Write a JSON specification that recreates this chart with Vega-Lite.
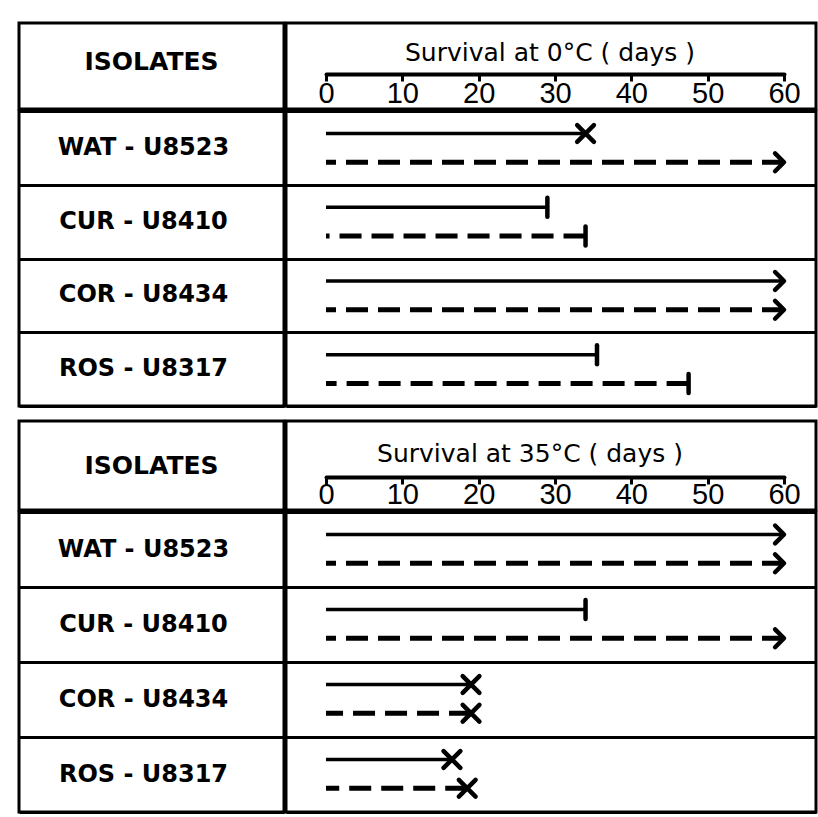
{
  "$schema": "https://vega.github.io/schema/vega-lite/v6.json",
  "background": "white",
  "padding": {"left": 17, "top": 21, "right": 0, "bottom": 0},
  "spacing": 11,
  "config": {
    "view": {"stroke": "#000", "strokeWidth": 3},
    "concat": {"spacing": 0},
    "text": {"color": "#000"},
    "axis": {"gridColor": "#000", "gridOpacity": 1, "gridWidth": 3, "domainColor": "#000", "tickColor": "#000", "labelColor": "#000", "titleColor": "#000"}
  },
  "datasets": {
    "survival": [
      {"temp": "0°C", "isolate": "WAT - U8523", "series": "A", "days": 34, "end": "x"},
      {"temp": "0°C", "isolate": "WAT - U8523", "series": "B", "days": 60, "end": "arrow"},
      {"temp": "0°C", "isolate": "CUR - U8410", "series": "A", "days": 29, "end": "bar"},
      {"temp": "0°C", "isolate": "CUR - U8410", "series": "B", "days": 34, "end": "bar"},
      {"temp": "0°C", "isolate": "COR - U8434", "series": "A", "days": 60, "end": "arrow"},
      {"temp": "0°C", "isolate": "COR - U8434", "series": "B", "days": 60, "end": "arrow"},
      {"temp": "0°C", "isolate": "ROS - U8317", "series": "A", "days": 35.5, "end": "bar"},
      {"temp": "0°C", "isolate": "ROS - U8317", "series": "B", "days": 47.5, "end": "bar"},
      {"temp": "35°C", "isolate": "WAT - U8523", "series": "A", "days": 60, "end": "arrow"},
      {"temp": "35°C", "isolate": "WAT - U8523", "series": "B", "days": 60, "end": "arrow"},
      {"temp": "35°C", "isolate": "CUR - U8410", "series": "A", "days": 34, "end": "bar"},
      {"temp": "35°C", "isolate": "CUR - U8410", "series": "B", "days": 60, "end": "arrow"},
      {"temp": "35°C", "isolate": "COR - U8434", "series": "A", "days": 19, "end": "x"},
      {"temp": "35°C", "isolate": "COR - U8434", "series": "B", "days": 19, "end": "x"},
      {"temp": "35°C", "isolate": "ROS - U8317", "series": "A", "days": 16.5, "end": "x"},
      {"temp": "35°C", "isolate": "ROS - U8317", "series": "B", "days": 18.5, "end": "x"}
    ],
    "isolates": [
      {"isolate": "WAT - U8523"},
      {"isolate": "CUR - U8410"},
      {"isolate": "COR - U8434"},
      {"isolate": "ROS - U8317"}
    ],
    "headers": [
      {"temp": "0°C", "column": "ISOLATES", "title": "Survival at 0°C ( days )"},
      {"temp": "35°C", "column": "ISOLATES", "title": "Survival at 35°C ( days )"}
    ]
  },
  "vconcat": [
    {
      "spacing": -3,
      "vconcat": [
        {"spacing": -3, "hconcat": [
          {"width": 265, "height": 86, "data": {"name": "headers"},
           "view": {"stroke": "#000", "strokeWidth": 3},
           "transform": [{"filter": "datum.temp === '0°C'"}],
           "mark": {"type": "text", "font": "DejaVu Sans", "fontWeight": "bold", "fontSize": 25, "dy": -4},
           "encoding": {"text": {"field": "column"}}},
          {"width": 530, "height": 86, "data": {"name": "headers"},
           "transform": [{"filter": "datum.temp === '0°C'"}],
           "mark": {"type": "text", "font": "DejaVu Sans", "fontSize": 25, "dy": -13, "dx": -5},
           "encoding": {
             "text": {"field": "title"},
             "x": {"datum": 30, "type": "quantitative",
                   "scale": {"domain": [0, 60], "range": [40, 498], "nice": false, "zero": false},
                   "axis": {"orient": "bottom", "offset": -35, "values": [0, 10, 20, 30, 40, 50, 60], "title": null, "grid": false,
                            "domainWidth": 4, "domainCap": "round", "tickSize": 7, "tickWidth": 3,
                            "labelPadding": 12, "labelBaseline": "middle", "labelFont": "Liberation Sans", "labelFontSize": 29,
                            "labelFlush": false, "labelOverlap": false, "labelAngle": 0}}}}
        ]},
        {"spacing": -3, "hconcat": [
          {"width": 265, "height": 295, "data": {"name": "isolates"},
           "mark": {"type": "text", "font": "DejaVu Sans", "fontWeight": "bold", "fontSize": 24, "dx": -8},
           "encoding": {
             "y": {"field": "isolate", "type": "nominal", "sort": null, "scale": {"type": "band", "paddingInner": 0, "paddingOuter": 0},
                   "axis": {"grid": true, "tickBand": "extent", "domain": false, "ticks": false, "labels": false, "title": null}},
             "text": {"field": "isolate"}}},
          {"width": 530, "height": 295, "data": {"name": "survival"},
           "transform": [{"filter": "datum.temp === '0°C'"}],
           "encoding": {
             "x": {"field": "days", "type": "quantitative",
                   "scale": {"domain": [-5.24, 64.19], "nice": false, "zero": false}, "axis": null},
             "y": {"field": "isolate", "type": "nominal", "sort": null, "scale": {"type": "band", "paddingInner": 0, "paddingOuter": 0},
                   "axis": {"grid": true, "tickBand": "extent", "domain": false, "ticks": false, "labels": false, "title": null}},
             "yOffset": {"field": "series", "type": "nominal", "scale": {"type": "band", "domain": ["A", "B"], "paddingInner": 0, "paddingOuter": 0.28}}
           },
           "layer": [
             {"transform": [{"filter": "datum.series === 'A'"}],
              "mark": {"type": "rule", "color": "#000", "strokeWidth": 3.5},
              "encoding": {"x2": {"datum": 0}}},
             {"transform": [{"filter": "datum.series === 'B'"}],
              "mark": {"type": "rule", "color": "#000", "strokeWidth": 5, "strokeDash": [22, 10]},
              "encoding": {"x2": {"datum": 0}}},
             {"mark": {"type": "point", "filled": false, "strokeWidth": 4.5, "opacity": 1, "color": "#000", "strokeCap": "round", "strokeJoin": "round"},
              "encoding": {
                "shape": {"field": "end", "type": "nominal", "scale": {"domain": ["x", "arrow", "bar"], "range": ["M-1,-1L1,1M-1,1L1,-1", "M-1,-1L0,0L-1,1", "M0,-1L0,1"]}, "legend": null},
                "size": {"field": "end", "type": "ordinal", "scale": {"domain": ["x", "arrow", "bar"], "range": [280, 360, 400]}, "legend": null}
              }}
           ]}
        ]}
      ]
    },
    {
      "spacing": -3,
      "vconcat": [
        {"spacing": -3, "hconcat": [
          {"width": 265, "height": 89, "data": {"name": "headers"},
           "view": {"stroke": "#000", "strokeWidth": 3},
           "transform": [{"filter": "datum.temp === '35°C'"}],
           "mark": {"type": "text", "font": "DejaVu Sans", "fontWeight": "bold", "fontSize": 25, "dy": 0},
           "encoding": {"text": {"field": "column"}}},
          {"width": 530, "height": 89, "data": {"name": "headers"},
           "transform": [{"filter": "datum.temp === '35°C'"}],
           "mark": {"type": "text", "font": "DejaVu Sans", "fontSize": 25, "dy": -12, "dx": -25},
           "encoding": {
             "text": {"field": "title"},
             "x": {"datum": 30, "type": "quantitative",
                   "scale": {"domain": [0, 60], "range": [40, 498], "nice": false, "zero": false},
                   "axis": {"orient": "bottom", "offset": -33, "values": [0, 10, 20, 30, 40, 50, 60], "title": null, "grid": false,
                            "domainWidth": 4, "domainCap": "round", "tickSize": 7, "tickWidth": 3,
                            "labelPadding": 10, "labelBaseline": "middle", "labelFont": "Liberation Sans", "labelFontSize": 29,
                            "labelFlush": false, "labelOverlap": false, "labelAngle": 0}}}}
        ]},
        {"spacing": -3, "hconcat": [
          {"width": 265, "height": 300, "data": {"name": "isolates"},
           "mark": {"type": "text", "font": "DejaVu Sans", "fontWeight": "bold", "fontSize": 24, "dx": -8},
           "encoding": {
             "y": {"field": "isolate", "type": "nominal", "sort": null, "scale": {"type": "band", "paddingInner": 0, "paddingOuter": 0},
                   "axis": {"grid": true, "tickBand": "extent", "domain": false, "ticks": false, "labels": false, "title": null}},
             "text": {"field": "isolate"}}},
          {"width": 530, "height": 300, "data": {"name": "survival"},
           "transform": [{"filter": "datum.temp === '35°C'"}],
           "encoding": {
             "x": {"field": "days", "type": "quantitative",
                   "scale": {"domain": [-5.24, 64.19], "nice": false, "zero": false}, "axis": null},
             "y": {"field": "isolate", "type": "nominal", "sort": null, "scale": {"type": "band", "paddingInner": 0, "paddingOuter": 0},
                   "axis": {"grid": true, "tickBand": "extent", "domain": false, "ticks": false, "labels": false, "title": null}},
             "yOffset": {"field": "series", "type": "nominal", "scale": {"type": "band", "domain": ["A", "B"], "paddingInner": 0, "paddingOuter": 0.28}}
           },
           "layer": [
             {"transform": [{"filter": "datum.series === 'A'"}],
              "mark": {"type": "rule", "color": "#000", "strokeWidth": 3.5},
              "encoding": {"x2": {"datum": 0}}},
             {"transform": [{"filter": "datum.series === 'B'"}],
              "mark": {"type": "rule", "color": "#000", "strokeWidth": 5, "strokeDash": [22, 10]},
              "encoding": {"x2": {"datum": 0}}},
             {"mark": {"type": "point", "filled": false, "strokeWidth": 4.5, "opacity": 1, "color": "#000", "strokeCap": "round", "strokeJoin": "round"},
              "encoding": {
                "shape": {"field": "end", "type": "nominal", "scale": {"domain": ["x", "arrow", "bar"], "range": ["M-1,-1L1,1M-1,1L1,-1", "M-1,-1L0,0L-1,1", "M0,-1L0,1"]}, "legend": null},
                "size": {"field": "end", "type": "ordinal", "scale": {"domain": ["x", "arrow", "bar"], "range": [300, 360, 400]}, "legend": null}
              }}
           ]}
        ]}
      ]
    }
  ]
}
